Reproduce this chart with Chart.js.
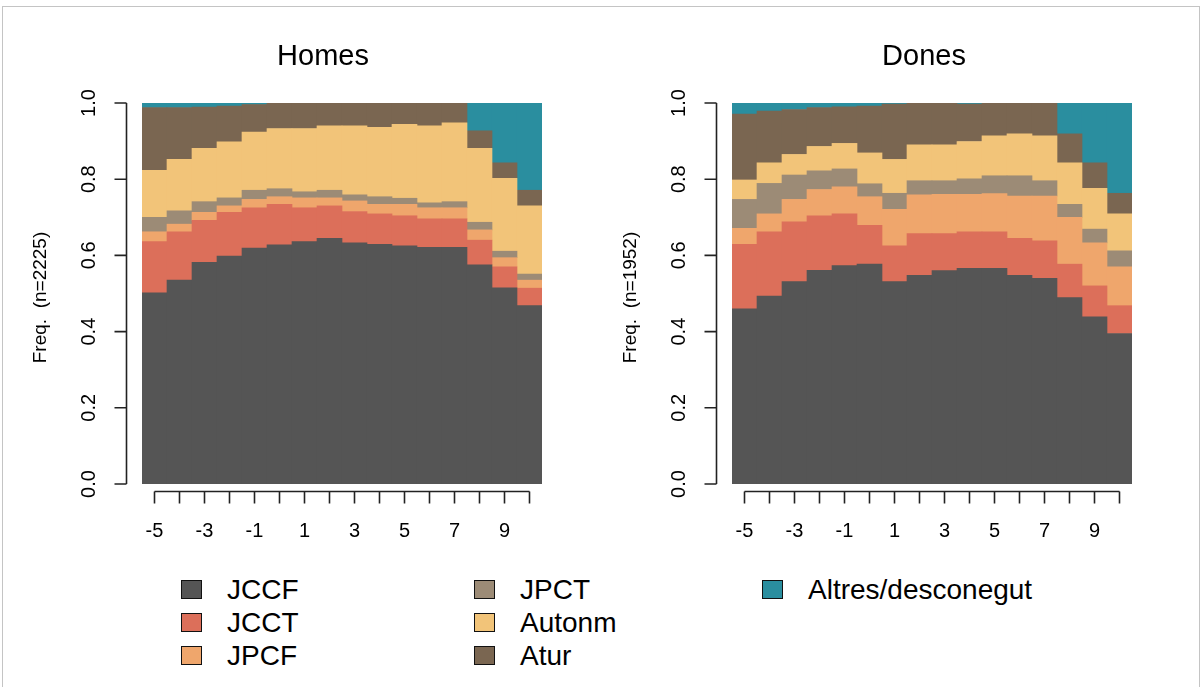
<!DOCTYPE html>
<html>
<head>
<meta charset="utf-8">
<script src="https://cdn.jsdelivr.net/npm/chart.js@4.4.1/dist/chart.umd.min.js"></script>
<style>
  body { margin: 0; background: #fff; font-family: "Liberation Sans", Arial, sans-serif; }
  #frame { position: absolute; left: 2px; top: 6px; width: 1198px; height: 700px; border: 1px solid #c4c4c4; box-sizing: border-box; }
  .panel { position: absolute; top: 0; }
  #legend { position: absolute; left: 0; top: 0; }
  .item { position: absolute; font-size: 28px; line-height: 32px; color: #000; white-space: nowrap; }
  .item span.box { position: absolute; width: 19px; height: 17px; border: 1.5px solid #111; top: 6px; }
</style>
</head>
<body>
<div id="frame"></div>
<canvas id="homesChart" class="panel" style="left:0px" width="601" height="560"></canvas>
<canvas id="donesChart" class="panel" style="left:601px" width="601" height="560"></canvas>
<div id="legend"></div>
<script>
// edat (-5 .. 10)
const categories = ['-5','-4','-3','-2','-1','0','1','2','3','4','5','6','7','8','9','10'];
const xLabelsShown = ['-5','-3','-1','1','3','5','7','9'];
const yTicks = [0, 0.2, 0.4, 0.6, 0.8, 1.0];

const seriesNames = ['JCCF', 'JCCT', 'JPCF', 'JPCT', 'Autonm', 'Atur', 'Altres/desconegut'];
const seriesColors = ['#555555', '#DC6F5A', '#EFA66C', '#9C8B76', '#F2C479', '#7A6651', '#2A8E9F'];

// Homes (n=2225)
const homesJCCF   = [.502,.535,.582,.598,.619,.628,.636,.645,.633,.629,.625,.621,.621,.575,.515,.468];
const homesJCCT   = [.134,.127,.110,.115,.106,.106,.089,.085,.082,.080,.079,.075,.075,.065,.055,.046];
const homesJPCF   = [.026,.020,.021,.017,.022,.020,.026,.021,.028,.025,.030,.029,.029,.027,.024,.021];
const homesJPCT   = [.038,.035,.028,.021,.024,.021,.016,.020,.016,.020,.016,.013,.016,.020,.017,.016];
const homesAutonm = [.123,.135,.140,.147,.153,.158,.166,.169,.181,.182,.194,.202,.207,.194,.191,.179];
const homesAtur   = [.165,.136,.108,.094,.072,.067,.067,.060,.060,.064,.056,.060,.052,.046,.041,.041];
const homesAltres = [.012,.012,.011,.008,.004,0,0,0,0,0,0,0,0,.073,.157,.229];

// Dones (n=1952)
const donesJCCF   = [.460,.493,.531,.561,.573,.577,.531,.548,.560,.566,.566,.548,.540,.489,.439,.395];
const donesJCCT   = [.169,.169,.157,.143,.136,.102,.094,.109,.097,.096,.096,.097,.098,.088,.081,.073];
const donesJPCF   = [.042,.047,.059,.069,.071,.075,.096,.102,.103,.098,.100,.111,.118,.123,.113,.102];
const donesJPCT   = [.076,.080,.064,.049,.047,.034,.042,.037,.036,.041,.047,.053,.040,.034,.036,.042];
const donesAutonm = [.051,.054,.054,.064,.067,.081,.089,.094,.094,.098,.105,.110,.118,.109,.107,.097];
const donesAtur   = [.173,.136,.118,.102,.096,.123,.145,.109,.110,.098,.086,.081,.086,.076,.067,.054];
const donesAltres = [.029,.021,.017,.012,.010,.008,.003,.001,0,.003,0,0,0,.081,.157,.237];

const FONT = '"Liberation Sans", Arial, sans-serif';

// eixos a l'estil R, dibuixats sobre les escales de Chart.js
const rAxes = {
    id: 'rAxes',
    afterDraw(chart, args, opts) {
        const ctx = chart.ctx;
        const xs = chart.scales.x, ys = chart.scales.y, area = chart.chartArea;
        ctx.save();
        ctx.strokeStyle = '#222';
        ctx.lineWidth = 1.6;
        ctx.beginPath();
        // eix y
        const ax = area.left - 15.5;
        ctx.moveTo(ax, ys.getPixelForValue(0));
        ctx.lineTo(ax, ys.getPixelForValue(1));
        yTicks.forEach(v => {
            const p = ys.getPixelForValue(v);
            ctx.moveTo(ax, p);
            ctx.lineTo(ax - 12, p);
        });
        // eix x
        const ay = area.bottom + 7.5;
        ctx.moveTo(xs.getPixelForValue(0), ay);
        ctx.lineTo(xs.getPixelForValue(categories.length - 1), ay);
        categories.forEach((c, i) => {
            const p = xs.getPixelForValue(i);
            ctx.moveTo(p, ay);
            ctx.lineTo(p, ay + 12);
        });
        ctx.stroke();

        ctx.fillStyle = '#000';
        ctx.font = '20px ' + FONT;
        ctx.textAlign = 'center';
        ctx.textBaseline = 'middle';
        categories.forEach((c, i) => {
            if (xLabelsShown.includes(c)) ctx.fillText(c, xs.getPixelForValue(i), area.bottom + 47);
        });
        yTicks.forEach(v => {
            ctx.save();
            ctx.translate(area.left - 53, ys.getPixelForValue(v));
            ctx.rotate(-Math.PI / 2);
            ctx.fillText(v.toFixed(1), 0, 0);
            ctx.restore();
        });
        // títol de l'eix y
        ctx.save();
        ctx.font = '19px ' + FONT;
        ctx.translate(area.left - 101, (area.top + area.bottom) / 2 + 4);
        ctx.rotate(-Math.PI / 2);
        ctx.fillText(opts.ylab, 0, 0);
        ctx.restore();
        // títol
        ctx.font = '29px ' + FONT;
        ctx.fillText(opts.title, opts.titleX, 57);
        ctx.restore();
    }
};

function makeChart(id, title, ylab, titleX, padLeft, series) {
    new Chart(document.getElementById(id), {
        type: 'bar',
        data: {
            labels: categories,
            datasets: series.map((d, i) => ({
                label: seriesNames[i],
                data: d,
                backgroundColor: seriesColors[i],
                borderWidth: 0,
                categoryPercentage: 1.0,
                barPercentage: 1.0
            }))
        },
        options: {
            responsive: false,
            animation: false,
            layout: { padding: { left: padLeft, right: 601 - padLeft - 400, top: 103, bottom: 560 - 484 } },
            scales: {
                x: { stacked: true, display: false },
                y: { stacked: true, display: false, min: 0, max: 1 }
            },
            plugins: {
                legend: { display: false },
                tooltip: { enabled: false },
                rAxes: { title: title, ylab: ylab, titleX: titleX }
            }
        },
        plugins: [rAxes]
    });
}

makeChart('homesChart', 'Homes', 'Freq.  (n=2225)', 323, 142,
    [homesJCCF, homesJCCT, homesJPCF, homesJPCT, homesAutonm, homesAtur, homesAltres]);
makeChart('donesChart', 'Dones', 'Freq.  (n=1952)', 323, 131,
    [donesJCCF, donesJCCT, donesJPCF, donesJPCT, donesAutonm, donesAtur, donesAltres]);

// llegenda comuna, en tres columnes
const legendCols = [227, 520, 808];
const legendRows = [574, 607, 640];
const legend = document.getElementById('legend');
seriesNames.forEach((name, i) => {
    const col = Math.floor(i / 3), row = i % 3;
    const el = document.createElement('div');
    el.className = 'item';
    el.style.left = legendCols[col] + 'px';
    el.style.top = legendRows[row] + 'px';
    el.innerHTML = '<span class="box" style="left:-46px;background:' + seriesColors[i] + '"></span>' + name;
    legend.appendChild(el);
});
</script>
</body>
</html>
